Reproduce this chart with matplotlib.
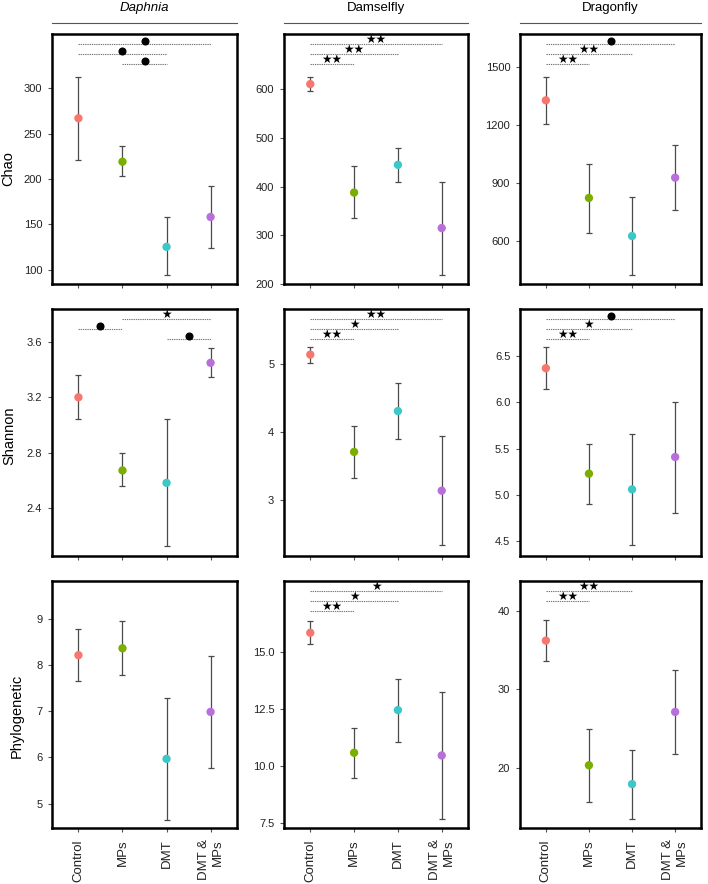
import matplotlib.pyplot as plt
from matplotlib.transforms import ScaledTranslation

plt.rcParams['font.family'] = ['Liberation Sans', 'DejaVu Sans']

# --- DATA ---
groups = ['Control', 'MPs', 'DMT', 'DMT &\nMPs']
taxa = ['Daphnia', 'Damselfly', 'Dragonfly']
metrics = ['Chao', 'Shannon', 'Phylogenetic']
colors = ['#F8766D', '#7CAE00', '#3DC8C8', '#B86FDA']

# one row per taxon: Daphnia, Damselfly, Dragonfly
chao_mean = [[267, 219, 125, 158], [611, 388, 445, 315], [1326, 821, 624, 926]]
chao_low = [[221, 203, 94, 124], [596, 335, 410, 218], [1206, 641, 424, 760]]
chao_high = [[313, 236, 158, 192], [626, 443, 479, 410], [1448, 998, 824, 1096]]

shannon_mean = [[3.20, 2.67, 2.58, 3.45], [5.14, 3.71, 4.31, 3.14], [6.37, 5.23, 5.06, 5.41]]
shannon_low = [[3.04, 2.56, 2.12, 3.35], [5.02, 3.32, 3.90, 2.34], [6.14, 4.90, 4.46, 4.81]]
shannon_high = [[3.36, 2.80, 3.04, 3.56], [5.25, 4.09, 4.72, 3.94], [6.60, 5.55, 5.66, 6.00]]

phylo_mean = [[8.22, 8.37, 5.97, 6.99], [15.85, 10.59, 12.46, 10.47], [36.2, 20.3, 17.9, 27.1]]
phylo_low = [[7.67, 7.78, 4.64, 5.78], [15.34, 9.49, 11.08, 7.70], [33.6, 15.6, 13.5, 21.7]]
phylo_high = [[8.78, 8.96, 7.29, 8.20], [16.37, 11.68, 13.84, 13.26], [38.8, 24.9, 22.3, 32.5]]

# y ranges and ticks per panel
chao_ylim = [(84, 360), (200, 714), (376, 1669)]
chao_ticks = [[100, 150, 200, 250, 300], [200, 300, 400, 500, 600], [600, 900, 1200, 1500]]
shannon_ylim = [(2.05, 3.84), (2.18, 5.81), (4.34, 7.01)]
shannon_ticks = [[2.4, 2.8, 3.2, 3.6], [3, 4, 5], [4.5, 5.0, 5.5, 6.0, 6.5]]
phylo_ylim = [(4.47, 9.83), (7.29, 18.12), (12.3, 43.8)]
phylo_ticks = [[5, 6, 7, 8, 9], [7.5, 10.0, 12.5, 15.0], [20, 30, 40]]
tick_fmt = [['%d', '%d', '%d'], ['%.1f', '%d', '%.1f'], ['%d', '%.1f', '%d']]

# significance: (group a, group b, mark, level)
chao_sig = [[(0, 3, 'dot', 2), (0, 2, 'dot', 1), (1, 2, 'dot', 0)],
            [(0, 3, '**', 2), (0, 2, '**', 1), (0, 1, '**', 0)],
            [(0, 3, 'dot', 2), (0, 2, '**', 1), (0, 1, '**', 0)]]
shannon_sig = [[(0, 1, 'dot', 1), (1, 3, '*', 2), (2, 3, 'dot', 0)],
               [(0, 3, '**', 2), (0, 2, '*', 1), (0, 1, '**', 0)],
               [(0, 3, 'dot', 2), (0, 2, '*', 1), (0, 1, '**', 0)]]
phylo_sig = [[],
             [(0, 3, '*', 2), (0, 2, '*', 1), (0, 1, '**', 0)],
             [(0, 2, '**', 2), (0, 1, '**', 1)]]

means = [chao_mean, shannon_mean, phylo_mean]
lows = [chao_low, shannon_low, phylo_low]
highs = [chao_high, shannon_high, phylo_high]
ylims = [chao_ylim, shannon_ylim, phylo_ylim]
yticks = [chao_ticks, shannon_ticks, phylo_ticks]
sigs = [chao_sig, shannon_sig, phylo_sig]

# --- LAYOUT ---
W, H = 708, 884
fig = plt.figure(figsize=(W / 100, H / 100), dpi=100)
col_left = [52, 284, 520]
col_width = [185, 184, 181]
row_top = [34, 309, 581]
row_height = [250, 247, 247]
levels = [0.88, 0.92, 0.96]
ylabel_pos = [(-0.235, 0.46), (-0.23, 0.486), (-0.19, 0.455)]

x = [1, 2, 3, 4]

for r in range(3):
    for c in range(3):
        ax = fig.add_axes([col_left[c] / W, 1 - (row_top[r] + row_height[r]) / H,
                           col_width[c] / W, row_height[r] / H])
        m = means[r][c]
        lo = [m[i] - lows[r][c][i] for i in range(4)]
        hi = [highs[r][c][i] - m[i] for i in range(4)]
        ax.errorbar(x, m, yerr=[lo, hi], fmt='none', ecolor='#4a4a4a',
                    elinewidth=0.9, capsize=2, capthick=0.9, zorder=2)
        ax.scatter(x, m, c=colors, s=36, zorder=3, edgecolors='none')

        ax.set_xlim(0.4, 4.6)
        ax.set_ylim(*ylims[r][c])
        ax.set_yticks(yticks[r][c])
        ax.set_yticklabels([tick_fmt[r][c] % v for v in yticks[r][c]])
        ax.set_xticks(x)
        if r == 2:
            ax.set_xticklabels(groups, rotation=90, fontsize=9.5,
                               va='top', ha='center', multialignment='right')
            lab = ax.get_xticklabels()[3]
            lab.set_transform(lab.get_transform() + ScaledTranslation(6 / 72, 0, fig.dpi_scale_trans))
        else:
            ax.set_xticklabels([])
        ax.tick_params(axis='y', labelsize=8, length=3, width=0.8, color='#555555',
                       labelcolor='#222222', pad=4)
        ax.tick_params(axis='x', length=3, width=0.8, color='#555555',
                       labelcolor='#222222', pad=5)
        for s in ax.spines.values():
            s.set_linewidth(1.8)
            s.set_color('black')

        # significance brackets
        tr = ax.get_xaxis_transform()
        for a, b, mark, lev in sigs[r][c]:
            y = levels[lev]
            ax.plot([a + 1, b + 1], [y, y], transform=tr, color='#777777',
                    lw=0.8, ls=(0, (1.2, 0.8)), clip_on=False, zorder=1)
            xm = (a + b + 2) / 2
            if mark == 'dot':
                ax.plot([xm], [y + 0.012], transform=tr, marker='o', ms=4.8,
                        color='black', clip_on=False, zorder=4)
            else:
                ax.text(xm, y - 0.008, '\u2605' * len(mark), transform=tr, ha='center',
                        va='bottom', fontsize=8.5, family=['DejaVu Sans'], zorder=4)

        if c == 0:
            ax.text(ylabel_pos[r][0], ylabel_pos[r][1], metrics[r], transform=ax.transAxes,
                    rotation=90, ha='center', va='center', fontsize=10.5)
        if r == 0:
            ax.plot([0, 1], [1.044, 1.044], transform=ax.transAxes, color='#555555',
                    lw=0.8, clip_on=False)
            ax.text(0.5, 1.104, taxa[c], transform=ax.transAxes, ha='center',
                    va='center', fontsize=9.5, style='italic' if c == 0 else 'normal')

plt.savefig('out.png', dpi=100)
